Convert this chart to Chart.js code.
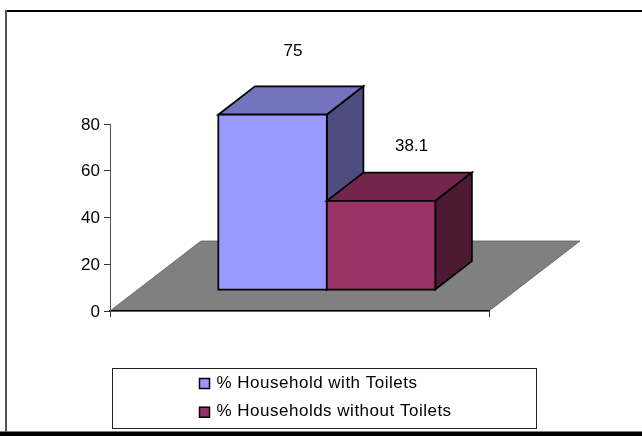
<!DOCTYPE html>
<html>
<head>
<meta charset="utf-8">
<style>
  html, body { margin: 0; padding: 0; background: #fff; }
  canvas { display: block; }
</style>
</head>
<body>
<canvas id="chart" width="642" height="436"></canvas>
<script src="https://cdn.jsdelivr.net/npm/chart.js@4"></script>
<script>
const categories = [""];
const withToilets = [75];
const withoutToilets = [38.1];
const seriesLabels = ["% Household with Toilets", "% Households without Toilets"];
const frontColors = ["#9999ff", "#993366"];
const topColors = ["#7373bf", "#73264d"];
const sideColors = ["#4d4d80", "#4d1a33"];

const FONT = '"Liberation Sans", Arial, sans-serif';
const floorDepth = { x: 91, y: -70 };
const barInset = { x: 27.3, y: -21 };
const barDepth = { x: 36.6, y: -28.4 };
const labelShift = [{ x: 20.5, y: -63.5 }, { x: 30.5, y: -54.5 }];

function poly(ctx, pts, fill, stroke, lineWidth) {
  ctx.beginPath();
  pts.forEach((p, i) => (i ? ctx.lineTo(p[0], p[1]) : ctx.moveTo(p[0], p[1])));
  ctx.closePath();
  ctx.fillStyle = fill;
  ctx.fill();
  if (stroke) {
    ctx.lineWidth = lineWidth;
    ctx.lineJoin = "miter";
    ctx.strokeStyle = stroke;
    ctx.stroke();
  }
}

// background, outer frame and the grey floor go underneath the axes
const backdrop = {
  id: "backdrop",
  beforeDraw(chart) {
    const { ctx, chartArea: a } = chart;
    ctx.save();
    ctx.fillStyle = "#fff";
    ctx.fillRect(0, 0, chart.width, chart.height);
    ctx.fillStyle = "#000";
    ctx.fillRect(6, 10, chart.width - 6, 2);
    ctx.fillRect(0, 431.5, chart.width, 4.5);
    ctx.fillStyle = "#555";
    ctx.fillRect(5, 10, 2, 422);
    poly(ctx, [
      [a.left, a.bottom],
      [a.right, a.bottom],
      [a.right + floorDepth.x, a.bottom + floorDepth.y],
      [a.left + floorDepth.x, a.bottom + floorDepth.y],
    ], "#808080", "#555", 0.75);
    ctx.restore();
  },
};

// the bar elements stay transparent; each one is drawn as a box from its own
// geometry, first series first, so the second box sits in front of the first
const boxBars = {
  id: "boxBars",
  afterDatasetsDraw(chart) {
    const { ctx } = chart;
    const dx = barDepth.x;
    const dy = barDepth.y;
    ctx.save();
    ctx.translate(barInset.x, barInset.y);
    chart.data.datasets.forEach((ds, i) => {
      const bar = chart.getDatasetMeta(i).data[0];
      const l = bar.x - bar.width / 2;
      const r = bar.x + bar.width / 2;
      const t = bar.y;
      const b = bar.base;
      poly(ctx, [[l, t], [r, t], [r + dx, t + dy], [l + dx, t + dy]], topColors[i], "#000", 1.75);
      poly(ctx, [[r, t], [r + dx, t + dy], [r + dx, b + dy], [r, b]], sideColors[i], "#000", 1.75);
      poly(ctx, [[l, t], [r, t], [r, b], [l, b]], frontColors[i], "#000", 1.75);
    });
    ctx.restore();

    ctx.save();
    ctx.font = "17px " + FONT;
    ctx.fillStyle = "#000";
    ctx.textAlign = "center";
    ctx.textBaseline = "middle";
    chart.data.datasets.forEach((ds, i) => {
      const bar = chart.getDatasetMeta(i).data[0];
      ctx.fillText(
        String(ds.data[0]),
        bar.x + barInset.x + labelShift[i].x,
        bar.y + barInset.y + labelShift[i].y
      );
    });
    ctx.restore();
  },
};

// boxed legend under the plot, two stacked rows
const boxLegend = {
  id: "boxLegend",
  afterDraw(chart) {
    const { ctx } = chart;
    ctx.save();
    ctx.strokeStyle = "#222";
    ctx.lineWidth = 1;
    ctx.strokeRect(112.5, 368.5, 424, 60);
    ctx.font = "17px " + FONT;
    ctx.letterSpacing = "0.5px";
    ctx.textBaseline = "middle";
    ctx.textAlign = "left";
    chart.data.datasets.forEach((ds, i) => {
      const y = 378.5 + i * 28.7;
      ctx.fillStyle = frontColors[i];
      ctx.fillRect(199.5, y, 10, 10);
      ctx.strokeStyle = "#000";
      ctx.lineWidth = 1.5;
      ctx.strokeRect(199.5, y, 10, 10);
      ctx.fillStyle = "#000";
      ctx.fillText(ds.label, 216.5, y + 4.5);
    });
    ctx.restore();
  },
};

new Chart(document.getElementById("chart"), {
  type: "bar",
  data: {
    labels: categories,
    datasets: [withToilets, withoutToilets].map((values, i) => ({
      label: seriesLabels[i],
      data: values,
      backgroundColor: "transparent",
      borderWidth: 0,
    })),
  },
  options: {
    responsive: false,
    animation: false,
    events: [],
    layout: { padding: { top: 124, right: 153 } },
    datasets: { bar: { barPercentage: 1, categoryPercentage: 0.5725 } },
    plugins: { legend: { display: false }, tooltip: { enabled: false } },
    scales: {
      x: {
        afterFit(scale) { scale.height = 125; },
        border: { color: "#000", width: 1.5 },
        grid: { drawOnChartArea: false, drawTicks: true, tickLength: 6, color: "#333" },
        ticks: { display: false },
      },
      y: {
        min: 0,
        max: 80,
        afterFit(scale) { scale.width = 110; },
        border: { color: "#555", width: 1 },
        grid: { drawOnChartArea: false, drawTicks: true, tickLength: 6, color: "#333" },
        ticks: { stepSize: 20, padding: 4, labelOffset: 1, color: "#000", font: { family: FONT, size: 17 } },
      },
    },
  },
  plugins: [backdrop, boxBars, boxLegend],
});
</script>
</body>
</html>
